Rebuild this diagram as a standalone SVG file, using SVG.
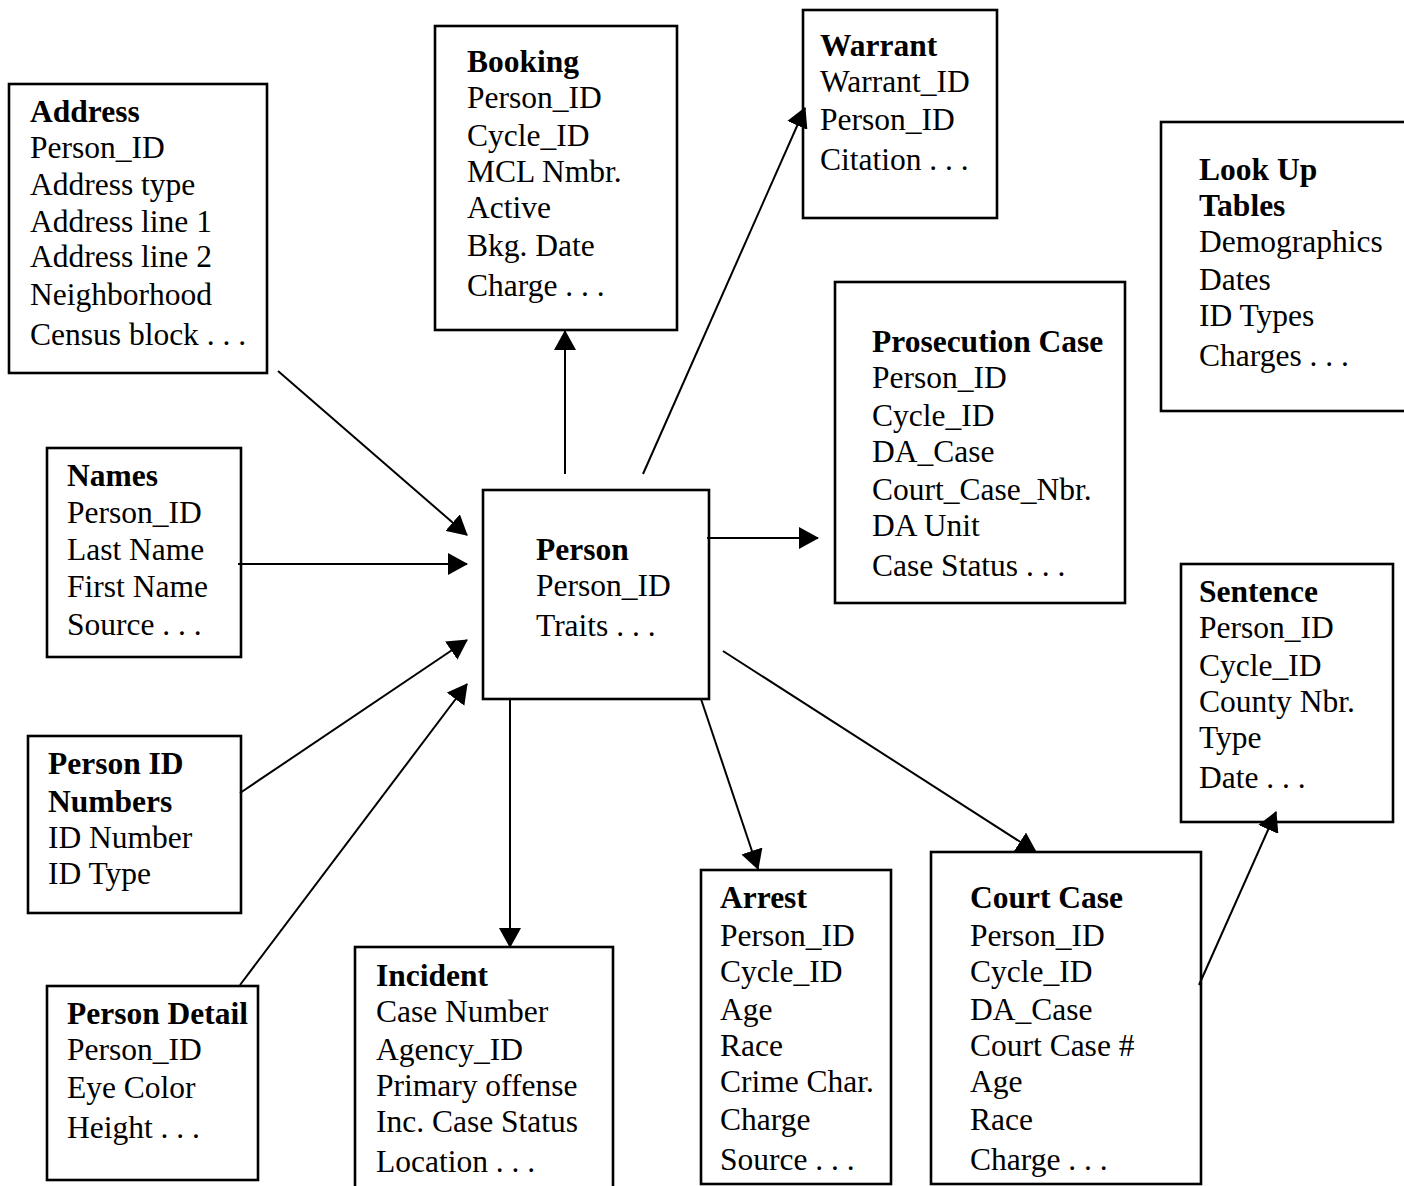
<svg xmlns="http://www.w3.org/2000/svg" width="1404" height="1186" viewBox="0 0 1404 1186">
<style>
  .box { fill: #ffffff; stroke: #000000; stroke-width: 2.6; }
  .t { font-family: "Liberation Serif", "Times New Roman", serif; font-size: 31.5px; fill: #000000; }
  .h { font-weight: bold; }
  .c { stroke: #000000; stroke-width: 2; fill: none; marker-end: url(#ah); }
</style>
<defs>
  <marker id="ah" markerUnits="userSpaceOnUse" markerWidth="20" markerHeight="22" refX="19" refY="11" orient="auto" viewBox="0 0 20 22">
    <path d="M0,0 L20,11 L0,22 Z" fill="#000000"/>
  </marker>
</defs>
<rect x="0" y="0" width="1404" height="1186" fill="#ffffff"/>

<g id="address">
  <rect class="box" x="9" y="84" width="258" height="289"/>
  <text class="t"><tspan class="h" x="30" y="122">Address</tspan><tspan x="30" y="158">Person_ID</tspan><tspan x="30" y="195">Address type</tspan><tspan x="30" y="232">Address line 1</tspan><tspan x="30" y="267">Address line 2</tspan><tspan x="30" y="305">Neighborhood</tspan><tspan x="30" y="345">Census block . . .</tspan></text>
</g>

<g id="booking">
  <rect class="box" x="435" y="26" width="242" height="304"/>
  <text class="t"><tspan class="h" x="467" y="72">Booking</tspan><tspan x="467" y="108">Person_ID</tspan><tspan x="467" y="146">Cycle_ID</tspan><tspan x="467" y="182">MCL Nmbr.</tspan><tspan x="467" y="218">Active</tspan><tspan x="467" y="256">Bkg. Date</tspan><tspan x="467" y="296">Charge . . .</tspan></text>
</g>

<g id="warrant">
  <rect class="box" x="803" y="10" width="194" height="208"/>
  <text class="t"><tspan class="h" x="820" y="56">Warrant</tspan><tspan x="820" y="92">Warrant_ID</tspan><tspan x="820" y="130">Person_ID</tspan><tspan x="820" y="170">Citation . . .</tspan></text>
</g>

<g id="lookup">
  <rect class="box" x="1161" y="122" width="260" height="289"/>
  <text class="t"><tspan class="h" x="1199" y="180">Look Up</tspan><tspan class="h" x="1199" y="216">Tables</tspan><tspan x="1199" y="252">Demographics</tspan><tspan x="1199" y="290">Dates</tspan><tspan x="1199" y="326">ID Types</tspan><tspan x="1199" y="366">Charges . . .</tspan></text>
</g>

<g id="prosecution">
  <rect class="box" x="835" y="282" width="290" height="321"/>
  <text class="t"><tspan class="h" x="872" y="352">Prosecution Case</tspan><tspan x="872" y="388">Person_ID</tspan><tspan x="872" y="426">Cycle_ID</tspan><tspan x="872" y="462">DA_Case</tspan><tspan x="872" y="500">Court_Case_Nbr.</tspan><tspan x="872" y="536">DA Unit</tspan><tspan x="872" y="576">Case Status . . .</tspan></text>
</g>

<g id="names">
  <rect class="box" x="47" y="448" width="194" height="209"/>
  <text class="t"><tspan class="h" x="67" y="486">Names</tspan><tspan x="67" y="523">Person_ID</tspan><tspan x="67" y="560">Last Name</tspan><tspan x="67" y="597">First Name</tspan><tspan x="67" y="635">Source . . .</tspan></text>
</g>

<g id="person">
  <rect class="box" x="483" y="490" width="226" height="209"/>
  <text class="t"><tspan class="h" x="536" y="560">Person</tspan><tspan x="536" y="596">Person_ID</tspan><tspan x="536" y="636">Traits . . .</tspan></text>
</g>

<g id="sentence">
  <rect class="box" x="1181" y="564" width="212" height="258"/>
  <text class="t"><tspan class="h" x="1199" y="602">Sentence</tspan><tspan x="1199" y="638">Person_ID</tspan><tspan x="1199" y="676">Cycle_ID</tspan><tspan x="1199" y="712">County Nbr.</tspan><tspan x="1199" y="748">Type</tspan><tspan x="1199" y="788">Date . . .</tspan></text>
</g>

<g id="personidnumbers">
  <rect class="box" x="28" y="736" width="213" height="177"/>
  <text class="t"><tspan class="h" x="48" y="774">Person ID</tspan><tspan class="h" x="48" y="812">Numbers</tspan><tspan x="48" y="848">ID Number</tspan><tspan x="48" y="884">ID Type</tspan></text>
</g>

<g id="persondetail">
  <rect class="box" x="47" y="986" width="211" height="194"/>
  <text class="t"><tspan class="h" x="67" y="1024">Person Detail</tspan><tspan x="67" y="1060">Person_ID</tspan><tspan x="67" y="1098">Eye Color</tspan><tspan x="67" y="1138">Height . . .</tspan></text>
</g>

<g id="incident">
  <rect class="box" x="355" y="947" width="258" height="260"/>
  <text class="t"><tspan class="h" x="376" y="986">Incident</tspan><tspan x="376" y="1022">Case Number</tspan><tspan x="376" y="1060">Agency_ID</tspan><tspan x="376" y="1096">Primary offense</tspan><tspan x="376" y="1132">Inc. Case Status</tspan><tspan x="376" y="1172">Location . . .</tspan></text>
</g>

<g id="arrest">
  <rect class="box" x="701" y="870" width="190" height="314"/>
  <text class="t"><tspan class="h" x="720" y="908">Arrest</tspan><tspan x="720" y="946">Person_ID</tspan><tspan x="720" y="982">Cycle_ID</tspan><tspan x="720" y="1020">Age</tspan><tspan x="720" y="1056">Race</tspan><tspan x="720" y="1092">Crime Char.</tspan><tspan x="720" y="1130">Charge</tspan><tspan x="720" y="1170">Source . . .</tspan></text>
</g>

<g id="courtcase">
  <rect class="box" x="931" y="852" width="270" height="332"/>
  <text class="t"><tspan class="h" x="970" y="908">Court Case</tspan><tspan x="970" y="946">Person_ID</tspan><tspan x="970" y="982">Cycle_ID</tspan><tspan x="970" y="1020">DA_Case</tspan><tspan x="970" y="1056">Court Case #</tspan><tspan x="970" y="1092">Age</tspan><tspan x="970" y="1130">Race</tspan><tspan x="970" y="1170">Charge . . .</tspan></text>
</g>

<g id="connectors">
  <line class="c" x1="278" y1="371" x2="467" y2="535"/>
  <line class="c" x1="238" y1="564" x2="467" y2="564"/>
  <line class="c" x1="240" y1="793" x2="467" y2="640"/>
  <line class="c" x1="240" y1="985" x2="467" y2="684"/>
  <line class="c" x1="565" y1="474" x2="565" y2="331"/>
  <line class="c" x1="643" y1="474" x2="805" y2="108"/>
  <line class="c" x1="707" y1="538" x2="818" y2="538"/>
  <line class="c" x1="510" y1="699" x2="510" y2="947"/>
  <line class="c" x1="701" y1="699" x2="758" y2="869"/>
  <line class="c" x1="723" y1="651" x2="1036" y2="852"/>
  <line class="c" x1="1199" y1="985" x2="1276" y2="812"/>
</g>
</svg>
